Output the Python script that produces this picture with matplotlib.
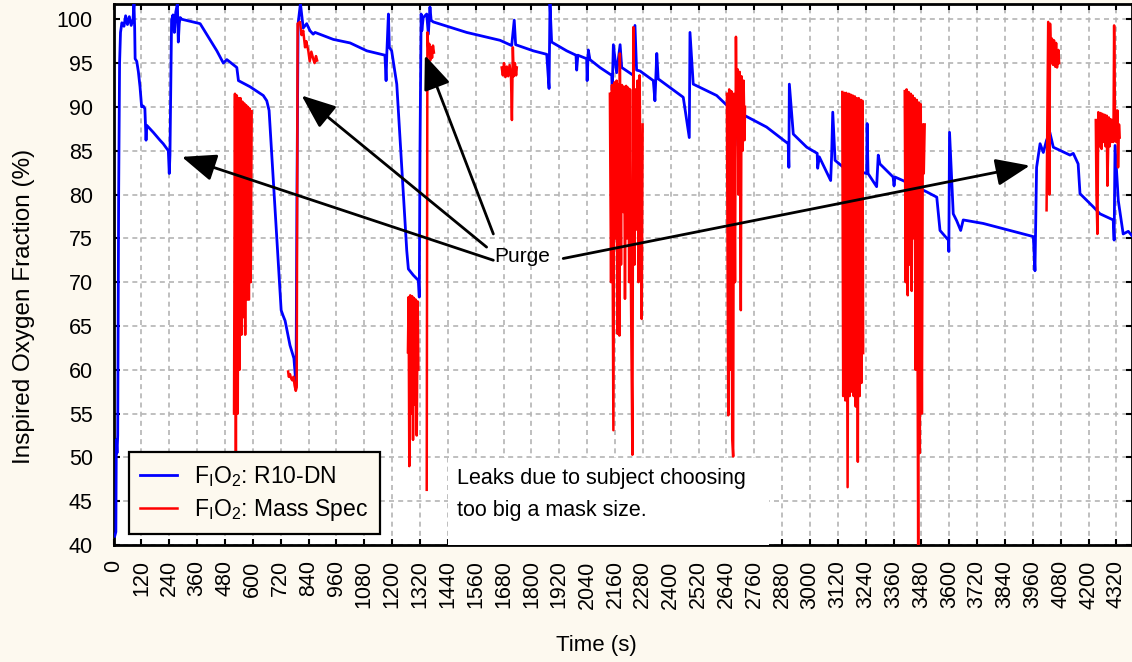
import matplotlib
matplotlib.use("Agg")
import matplotlib.pyplot as plt
from matplotlib.patches import Rectangle

plt.rcParams['font.family'] = ['Liberation Sans', 'DejaVu Sans']
plt.rcParams['mathtext.fontset'] = 'custom'
plt.rcParams['mathtext.rm'] = 'Liberation Sans'

# R10-DN trace (time s, FIO2 %)
blue = [(5, 41), (10, 41.5), (12, 52), (15, 50.5), (18, 52.5), (22, 80), (26, 95), (30, 98.5),
        (36, 99.6), (45, 99.2), (52, 100.4), (60, 99.4), (68, 100.3), (76, 99.3), (84, 100.0),
        (88, 101.8), (91, 99), (93, 95.5), (100, 95.2), (107, 94), (114, 92.3), (121, 90),
        (128, 90.1), (135, 89.8), (140, 86.2), (143, 87.9), (171, 87.1), (200, 86.2), (214, 85.8),
        (236, 85.0), (240, 82.4), (243, 84.5), (246, 90.7), (250, 99.9), (256, 100.5), (262, 98.5),
        (268, 100.8), (275, 101.8), (279, 97.4), (283, 99.5), (287, 100.2), (294, 100.0),
        (373, 99.5), (401, 98.3), (445, 96.4), (459, 95.7), (473, 95.0), (488, 95.4), (531, 94.5),
        (538, 93.0), (588, 92.3), (645, 91.3), (660, 90.7), (670, 89.6), (722, 66.8), (730, 66.2),
        (739, 65.6), (760, 62.8), (769, 62.0), (777, 61.3), (786, 58.2), (790, 80), (795, 99.5),
        (805, 101.8), (817, 99.0), (832, 99.5), (846, 98.7), (860, 98.3), (868, 98.5), (947, 97.7),
        (1019, 97.3), (1091, 96.4), (1169, 95.9), (1174, 93.0), (1177, 96.0), (1184, 100.6),
        (1188, 96.8), (1198, 96.4), (1220, 92.6), (1263, 73.6), (1270, 71.5), (1291, 70.8),
        (1313, 70.2), (1317, 68.3), (1320, 85), (1325, 100.6), (1328, 98.7), (1334, 100.2),
        (1349, 100.6), (1356, 98.3), (1363, 101.4), (1368, 99.9), (1377, 99.7), (1521, 98.5),
        (1665, 97.6), (1715, 97.0), (1726, 99.9), (1732, 97.1), (1808, 96.4), (1866, 96.0),
        (1876, 92.1), (1880, 101.8), (1887, 97.4), (1952, 96.4), (1992, 95.9), (1995, 94.2),
        (2000, 95.9), (2038, 95.5), (2040, 93.0), (2045, 96.5), (2052, 95.4), (2095, 94.5),
        (2146, 93.6), (2148, 91.9), (2153, 97.1), (2167, 93.9), (2182, 97.1), (2189, 94.5),
        (2239, 93.6), (2246, 99.3), (2253, 94.2), (2268, 94.1), (2325, 93.0), (2332, 90.7),
        (2340, 96.1), (2346, 93.2), (2454, 91.1), (2480, 86.5), (2483, 98.5), (2497, 92.6),
        (2598, 91.3), (2649, 90.0), (2670, 90.0), (2677, 85.6), (2684, 89.5), (2727, 88.9),
        (2813, 87.7), (2906, 85.8), (2909, 83.1), (2911, 92.6), (2928, 86.9), (2986, 85.4),
        (3031, 84.7), (3033, 83.0), (3040, 84.3), (3089, 81.6), (3093, 84.3), (3098, 89.4),
        (3108, 83.9), (3144, 83.1), (3244, 82.4), (3246, 88.1), (3250, 82.4), (3287, 80.9),
        (3294, 84.5), (3301, 83.5), (3358, 82.0), (3362, 81.0), (3366, 82.0), (3417, 81.4),
        (3503, 80.3), (3546, 79.7), (3560, 75.9), (3596, 74.8), (3598, 73.5), (3601, 87.1),
        (3617, 77.8), (3632, 77.0), (3649, 75.9), (3660, 77.1), (3746, 76.7), (3962, 75.2),
        (3969, 71.3), (3976, 83.1), (3991, 85.8), (4005, 84.8), (4019, 86.2), (4033, 87.1),
        (4048, 85.4), (4120, 84.5), (4134, 84.7), (4155, 83.5), (4163, 80.1), (4220, 78.6),
        (4249, 77.8), (4306, 77.1), (4310, 74.8), (4314, 85.6), (4328, 79.3), (4349, 75.5),
        (4371, 75.8), (4387, 75.3)]

# Mass spec trace, one list per recorded stretch
red_a = [(519, 55), (523, 91.5), (527, 50), (531, 91.3), (535, 55), (539, 91), (543, 60),
         (547, 91), (551, 64), (555, 90.6), (559, 66), (563, 90.4), (567, 64), (571, 90.2),
         (575, 68), (579, 90), (583, 68), (587, 89.8), (591, 70), (595, 89.5)]
red_b = [(752, 59.8), (755, 59.2), (760, 59.5), (765, 59.0), (770, 58.8), (775, 59.2),
         (780, 58.2), (785, 57.6), (789, 58.0), (791, 80), (793, 99.5), (803, 99.7), (810, 98.2),
         (817, 98.7), (825, 96.8), (830, 97.5), (839, 96.4), (845, 95.2), (852, 96.3),
         (860, 95.5), (866, 95.0), (872, 95.8), (877, 95.3)]
red_c = [(1268, 62), (1271, 68.3), (1274, 49), (1278, 68.5), (1282, 55), (1286, 68.4),
         (1290, 52), (1294, 68.2), (1298, 56), (1302, 68), (1306, 52.5), (1310, 67.8), (1313, 60)]
red_d = [(1349, 46.3), (1352, 98.5), (1356, 96.5), (1360, 97.2), (1364, 95.3), (1368, 96.8),
         (1372, 95.6), (1376, 97.0), (1380, 96.2)]
red_e = [(1672, 94.5), (1677, 93.6), (1682, 95.0), (1688, 93.4), (1694, 94.6), (1700, 93.5),
         (1706, 94.8), (1712, 93.4), (1716, 88.5), (1720, 96.8), (1724, 93.5), (1729, 95),
         (1734, 93.6), (1737, 94.5)]
red_f = [(2138, 91.5), (2143, 70), (2147, 92.5), (2153, 53.1), (2158, 92.8), (2162, 75),
         (2167, 93), (2171, 64.1), (2175, 92.6), (2179, 63.9), (2181, 96.1), (2186, 72),
         (2190, 92.5), (2195, 78), (2199, 92.3), (2203, 68.1), (2208, 92.4), (2212, 75),
         (2216, 92.2), (2221, 70), (2225, 92), (2229, 68.3), (2235, 50.3), (2239, 99.1),
         (2244, 72), (2248, 92), (2253, 76), (2257, 93), (2261, 70), (2266, 93.6), (2270, 80),
         (2275, 65.8), (2279, 88)]
red_g = [(2642, 91.5), (2648, 54.8), (2652, 92), (2656, 60), (2661, 91.8), (2665, 52.2),
         (2669, 50.1), (2672, 91.5), (2677, 70), (2681, 98), (2684, 88), (2688, 94.3), (2692, 80),
         (2697, 94), (2702, 66.8), (2705, 93.5), (2710, 85), (2714, 93), (2718, 86.2), (2720, 90)]
red_h = [(3139, 91.7), (3143, 57), (3148, 91.6), (3152, 56.5), (3156, 91.6), (3162, 46.6),
         (3167, 91.5), (3171, 57), (3175, 91.4), (3180, 57.5), (3184, 91.3), (3188, 57),
         (3193, 91.2), (3197, 55.8), (3201, 91.0), (3206, 49.5), (3210, 91.0), (3214, 57),
         (3219, 90.8), (3222, 58.5), (3226, 90.7), (3229, 61.9)]
red_i = [(3408, 91.8), (3412, 70), (3416, 92), (3421, 68.5), (3425, 91.7), (3429, 72),
         (3434, 91.5), (3438, 69), (3442, 91.3), (3447, 75), (3451, 91), (3455, 60),
         (3460, 90.8), (3466, 39.5), (3469, 90.5), (3473, 50.5), (3477, 90.3), (3482, 55),
         (3486, 88), (3490, 82.4), (3494, 88)]
red_j = [(4019, 78.2), (4026, 99.7), (4031, 80), (4034, 99.5), (4038, 95), (4042, 97.8),
         (4047, 94.8), (4051, 97.6), (4056, 94.6), (4060, 97.3), (4064, 94.5), (4070, 96.5),
         (4073, 95)]
red_k = [(4231, 88.5), (4234, 80), (4238, 75.5), (4242, 89.4), (4247, 85.5), (4252, 89.3),
         (4256, 85.2), (4260, 89.2), (4265, 86), (4269, 89.1), (4273, 85.5), (4278, 89),
         (4281, 81.0), (4287, 88.8), (4291, 85.5), (4295, 88.6), (4300, 86), (4304, 88.5),
         (4307, 86), (4310, 99.3), (4314, 88), (4319, 86), (4324, 89.6), (4327, 83.1),
         (4331, 88), (4334, 86.5)]
red_parts = [red_a, red_b, red_c, red_d, red_e, red_f, red_g, red_h, red_i, red_j, red_k]

# "Purge" arrows: (tip, tail)
purge_tips = [(294, 84.3), (810, 91.3), (1341, 95.9), (3947, 83.3)]
purge_tails = [(1636, 72.5), (1607, 74.0), (1636, 75.5), (1937, 72.7)]

x_ticks = list(range(0, 4321, 120))
y_ticks = list(range(40, 101, 5))

bg = '#fdf9ef'
fig = plt.figure(figsize=(11.32, 6.62), dpi=100, facecolor=bg)
ax = fig.add_axes([0.1003, 0.1767, 0.8997, 0.818])
ax.set_facecolor('white')

bt, bv = zip(*blue)
ax.plot(bt, bv, color='#0000ff', lw=2.0, zorder=3,
        label=r'F$_\mathregular{I}$O$_\mathregular{2}$: R10-DN')
for i, part in enumerate(red_parts):
    rt, rv = zip(*part)
    ax.plot(rt, rv, color='#ff0000', lw=1.8, zorder=4,
            label=r'F$_\mathregular{I}$O$_\mathregular{2}$: Mass Spec' if i == 0 else None)

ax.set_xlim(0, 4387)
ax.set_ylim(40, 101.8)
ax.set_xticks(x_ticks)
ax.set_yticks(y_ticks)
ax.tick_params(axis='both', direction='in', length=4, width=1.5, labelsize=15.5,
               top=True, right=True, colors='black')
ax.tick_params(axis='x', labelrotation=90, pad=11)
ax.tick_params(axis='y', pad=15)
ax.grid(True, color='#b4b4b4', linestyle=(0, (3, 2.5)), lw=1.2)
ax.set_axisbelow(True)
for s in ax.spines.values():
    s.set_linewidth(2)

ax.set_xlabel('Time (s)', fontsize=16, va='center')
ax.xaxis.set_label_coords(0.474, -0.185)
ax.set_ylabel('Inspired Oxygen Fraction (%)', fontsize=17.5, va='center')
ax.yaxis.set_label_coords(-0.088, 0.44)

# note box over the lower grid
ax.add_patch(Rectangle((0.328, 0.0), 0.3155, 0.1615, transform=ax.transAxes,
                       facecolor='white', edgecolor='none', zorder=5))
ax.text(0.3375, 0.094, 'Leaks due to subject choosing\ntoo big a mask size.',
        transform=ax.transAxes, fontsize=15.5, ha='left', va='center',
        linespacing=1.7, zorder=6)

ax.text(1759, 72.95, 'Purge', fontsize=15, ha='center', va='center', zorder=6)
for tip, tail in zip(purge_tips, purge_tails):
    ax.annotate('', xy=tip, xytext=tail, zorder=6,
                arrowprops=dict(arrowstyle='-|>,head_length=0.7,head_width=0.28',
                                mutation_scale=30, color='black', lw=2,
                                shrinkA=0, shrinkB=0))

leg = ax.legend(loc='lower left', bbox_to_anchor=(0.015, 0.02), borderaxespad=0,
                fontsize=16.5, fancybox=False, framealpha=1, facecolor=bg,
                edgecolor='black', handlelength=1.6, handletextpad=0.75,
                labelspacing=0.35, borderpad=0.5)
leg.get_frame().set_linewidth(1.6)
leg.set_zorder(7)

fig.savefig('out.png', dpi=100, facecolor=bg)
